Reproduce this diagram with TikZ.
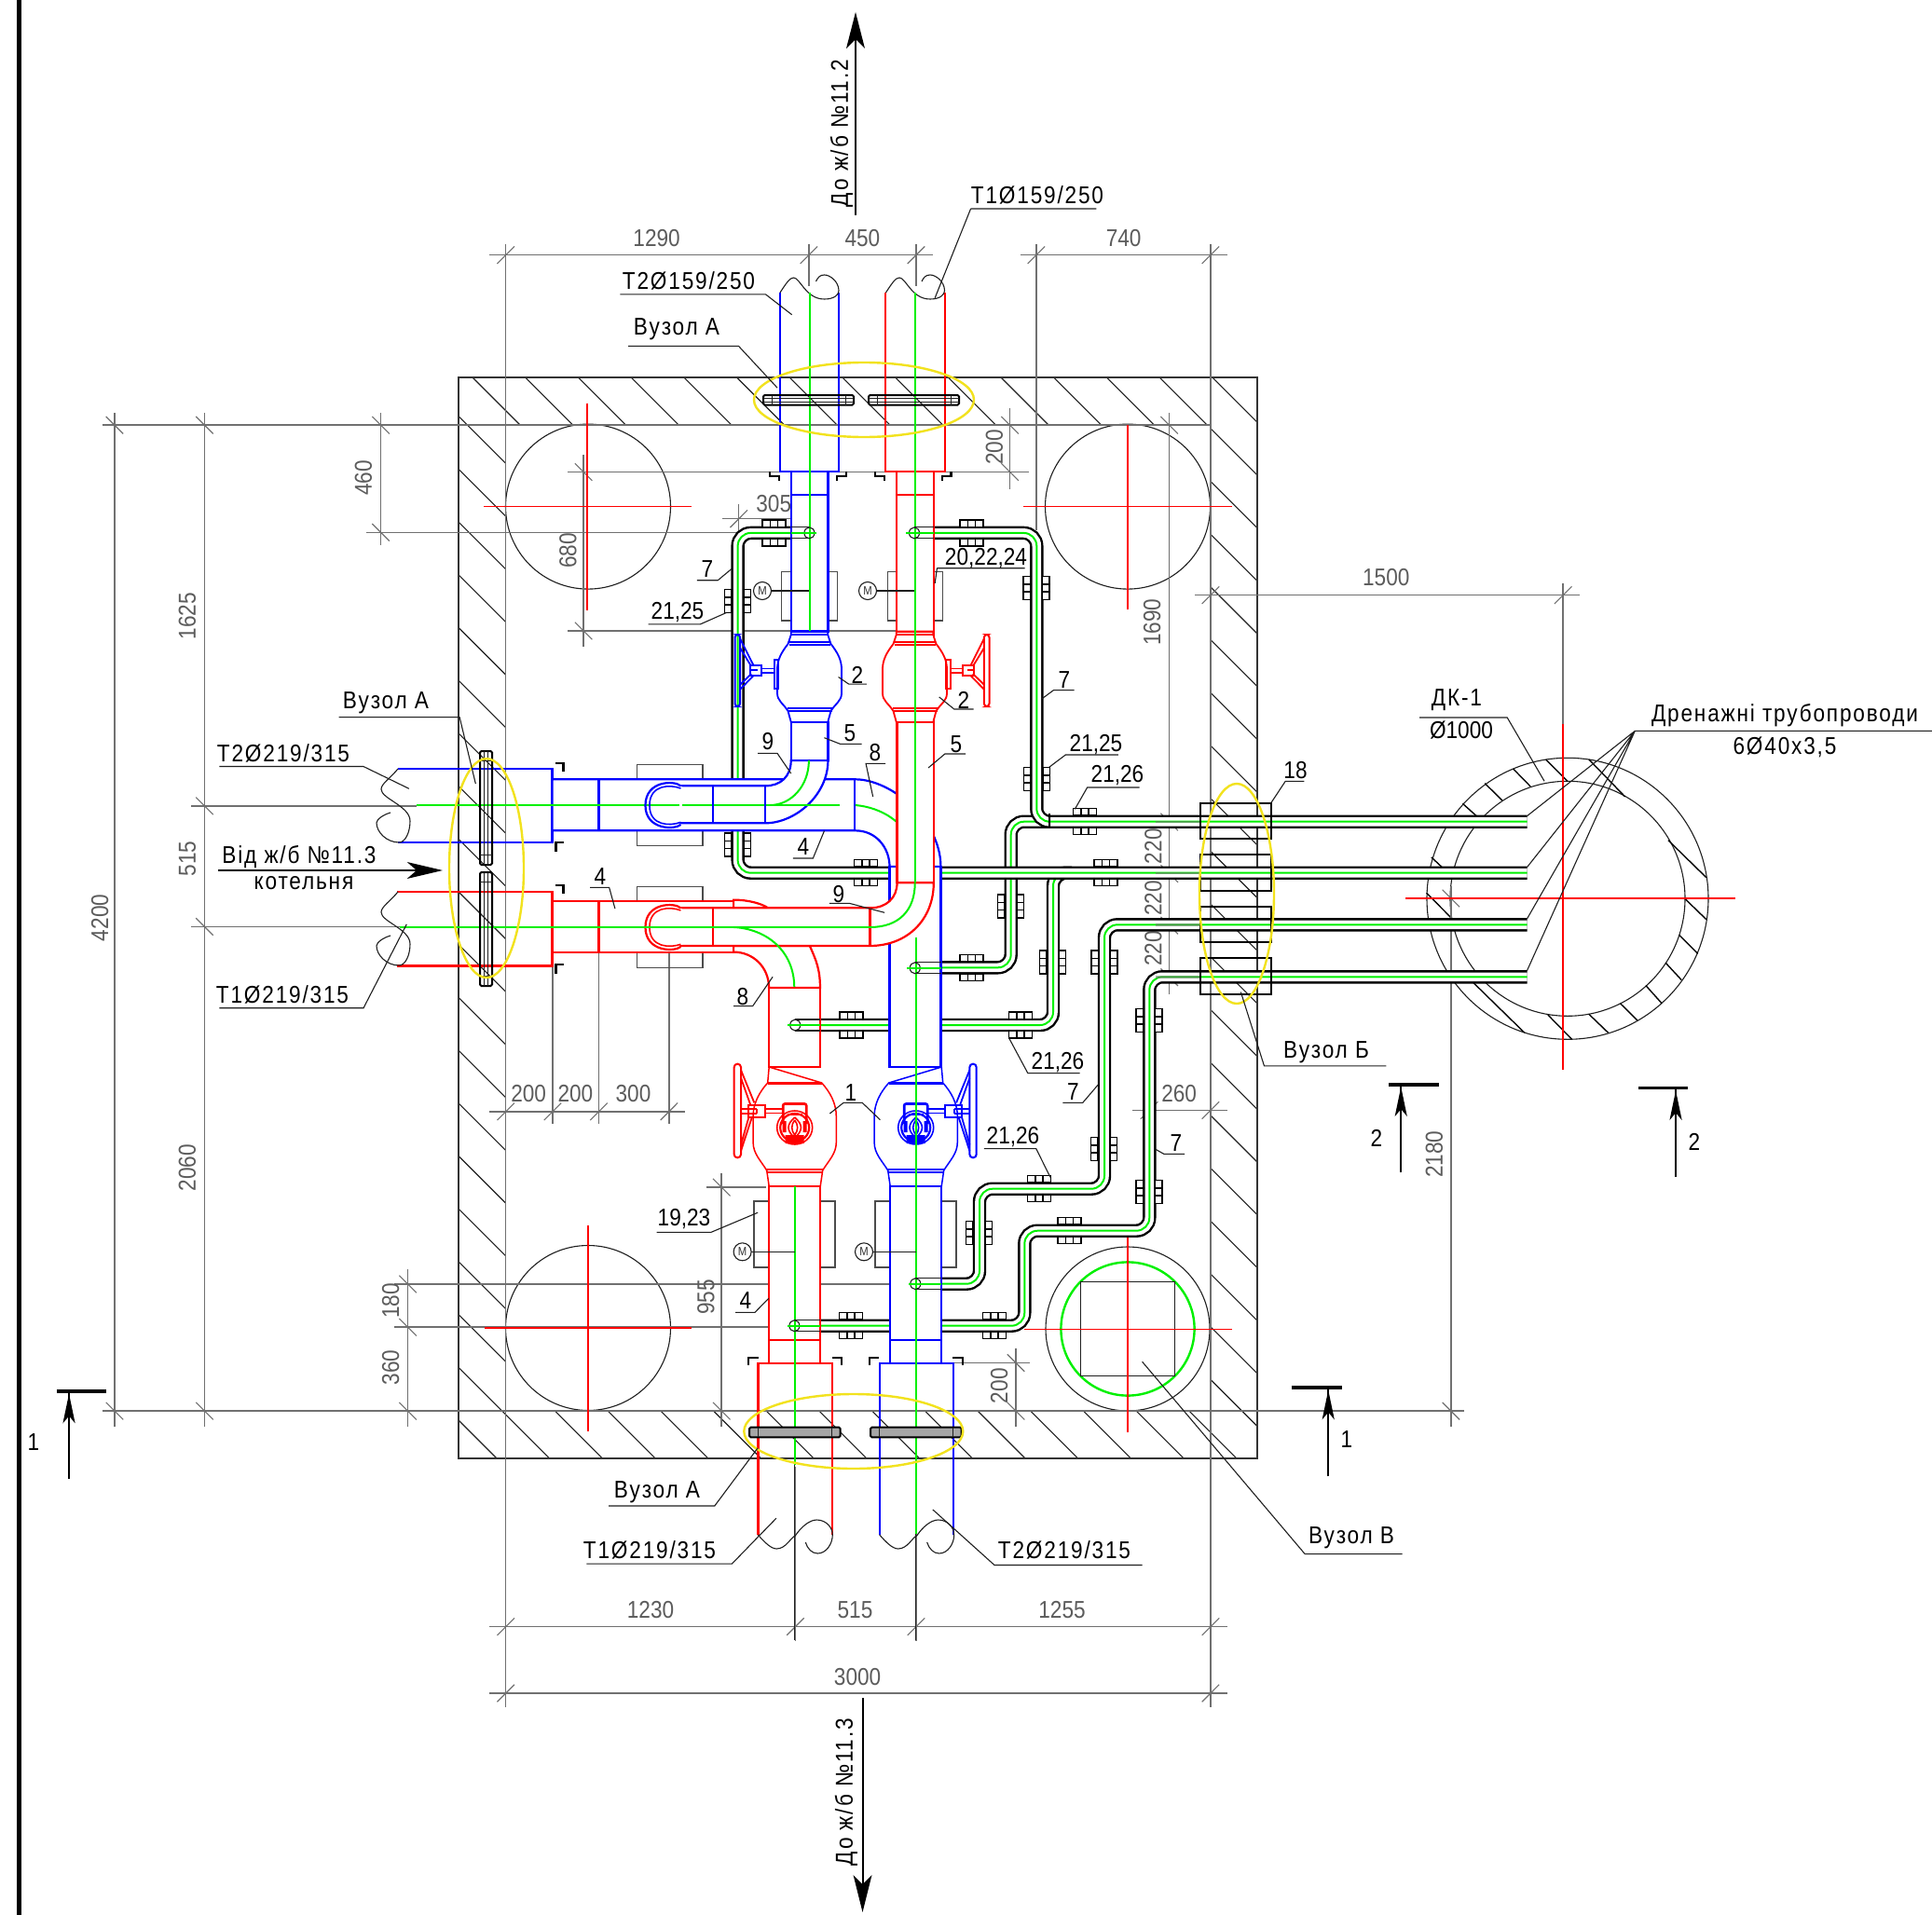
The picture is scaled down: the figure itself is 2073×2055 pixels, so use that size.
\documentclass[tikz,border=0pt]{standalone}
\usepackage{fontspec}
\newfontfamily\cad[FakeStretch=0.87]{Liberation Sans}
\newfontfamily\cadw[FakeStretch=0.87,LetterSpace=7]{Liberation Sans}
\definecolor{gr}{HTML}{00F000}
\definecolor{yl}{HTML}{F2E21E}
\definecolor{dimc}{HTML}{707070}
\definecolor{txtd}{HTML}{5C5C5C}
\tikzset{
 z1/.style={shift={(480,180)},x=0.4464pt,y=-0.3827pt},
 z2/.style={shift={(380,720)},x=0.4464pt,y=-0.3333pt},
 z3/.style={shift={(760,1100)},x=0.4464pt,y=-0.3333pt},
 z4/.style={shift={(1240,760)},x=0.5313pt,y=-0.3333pt},
 z5/.style={shift={(760,1420)},x=0.3333pt,y=-0.3333pt},
 z6/.style={shift={(980,780)},x=0.3333pt,y=-0.3333pt},
 sh/.style={x=1.3221pt,y=-1.3224pt},
 thinl/.style={draw=black!88,line width=1.1pt},
 dimm/.style={draw=dimc,line width=1.5pt},
 dimtk/.style={draw=dimc,line width=1.1pt},
 rp/.style={draw=red,line width=2.2pt,fill=white},
 rl/.style={draw=red,line width=2.2pt},
 bp/.style={draw=blue,line width=2.2pt,fill=white},
 bl/.style={draw=blue,line width=2.2pt},
 gl/.style={draw=gr,line width=2pt},
 tubeo/.style={draw=black,line width=2.4pt,double=white,double distance=9.6pt,rounded corners=14pt},
 tubeg/.style={draw=gr,line width=2pt,rounded corners=14pt},
 clampb/.style={draw=black,line width=1.5pt},
 lbl/.style={font=\cad\fontsize{26}{26}\selectfont,text=black,inner sep=0pt},
 wlbl/.style={font=\cadw\fontsize{26}{26}\selectfont,text=black,inner sep=0pt},
 dtx/.style={font=\cad\fontsize{26}{26}\selectfont,text=txtd,inner sep=0pt},
 secbar/.style={draw=black,line width=3.6pt},
 secln/.style={draw=black,line width=1.6pt},
 plate/.style={draw=black,line width=2pt,rounded corners=1.5pt},
 ell/.style={draw=yl,line width=2.4pt},
}
\newcommand\tubeline[1]{\draw[tubeo] #1; \draw[tubeg] #1;}
\newcommand\clh[2]{\begin{scope}[shift={(#1,#2)}]
 \draw[clampb,fill=white] (-12.5,-14) rectangle (12.5,-6.5) (-12.5,6.5) rectangle (12.5,14);
 \draw[clampb] (-4,-14)--(-4,-6.5) (4,-14)--(4,-6.5) (-4,6.5)--(-4,14) (4,6.5)--(4,14);
 \end{scope}}
\newcommand\clv[2]{\begin{scope}[shift={(#1,#2)},rotate=90]
 \draw[clampb,fill=white] (-12.5,-14) rectangle (12.5,-6.5) (-12.5,6.5) rectangle (12.5,14);
 \draw[clampb] (-4,-14)--(-4,-6.5) (4,-14)--(4,-6.5) (-4,6.5)--(-4,14) (4,6.5)--(4,14);
 \end{scope}}
\newcommand\stub[4]{% centre x, pipe edge x, y, green far end
 \draw[thinl] (#1,#3-6)--(#2,#3-6) (#1,#3+6)--(#2,#3+6);
 \draw[thinl] (#1,#3) ellipse (5.5 and 6);
 \draw[gl] (#4,#3)--(#2,#3);}
\newcommand\wavetop[1]{\draw[thinl,shift={(#1,314)}] (-31.5,0) .. controls (-25,-10) and (-21,-16) .. (-17,-16) .. controls (-10,-16) and (-4,7) .. (16,7) .. controls (27,7) and (31.5,2) .. (31.5,-2) .. controls (31.5,-12) and (22,-19) .. (16,-19) .. controls (11,-19) and (9,-16) .. (7,-12);}
\newcommand\wavebot[1]{\draw[thinl,shift={(#1,1647)}] (-40,0) .. controls (-33,8) and (-26,15) .. (-20,15) .. controls (-10,15) and (-5,3) .. (0,1) .. controls (6,-8) and (15,-16) .. (23,-16) .. controls (33,-16) and (40,-8) .. (40,0) .. controls (40,10) and (33,20) .. (24,20) .. controls (18,20) and (13,15) .. (11,8);}
\newcommand\waveleft[1]{\draw[thinl,shift={(427,#1)}] (0,-40) .. controls (-8,-30) and (-18,-24) .. (-18,-18) .. controls (-18,-8) and (13,0) .. (13,16) .. controls (13,28) and (8,39) .. (1,39) .. controls (-12,39) and (-23,28) .. (-23,18) .. controls (-23,14) and (-15,9) .. (-8,7);}
% top valve: #1 centre, #2 colour, #3 side (1: wheel at left, -1: wheel at right)
\newcommand\topvalve[3]{\begin{scope}[shift={(#1,0)},xscale=#3,draw=#2]
 \draw[line width=1.8pt,fill=white] (-19.7,677.5)--(-19.7,681)--(-23,691) .. controls (-30,700) and (-34.5,708) .. (-34.5,718)--(-34.5,744) .. controls (-34.5,752) and (-28,755) .. (-23,763)--(-19.7,775)--(19.7,775)--(23,763) .. controls (28,755) and (34.5,752) .. (34.5,744)--(34.5,718) .. controls (34.5,708) and (30,700) .. (23,691)--(19.7,681)--(19.7,677.5)--cycle;
 \draw[line width=2pt] (-19.7,677.5)--(19.7,677.5) (-19.7,681)--(19.7,681) (-22,689)--(22,689) (-22,692)--(22,692) (-24,759.5)--(24,759.5) (-24,762.5)--(24,762.5) (-19.7,775)--(19.7,775);
 \draw[line width=2pt] (-38,708) rectangle (-33.4,739);
 \draw[line width=1.6pt] (-51.4,717.6)--(-38,717.6) (-51.4,722)--(-38,722);
 \draw[line width=2pt] (-63.4,714) rectangle (-51.4,725) (-63,719)--(-56,719);
 \draw[line width=1.8pt] (-74.6,685)--(-60,714) (-74.6,695)--(-63,714) (-74.6,735)--(-62.4,723) (-74.6,740)--(-60,725);
 \draw[line width=2pt,rounded corners=3pt] (-80,681) rectangle (-74.4,758);
 \end{scope}}
% lower valve
\newcommand\ballvalve[3]{\begin{scope}[shift={(#1,0)},xscale=#3,draw=#2]
 \draw[line width=1.5pt,fill=white] (-27.5,1145)--(-29,1162) .. controls (-38,1172) and (-44.6,1184) .. (-44.6,1198)--(-44.6,1226) .. controls (-44.6,1238) and (-36,1246) .. (-30,1256)--(-27.5,1273)--(27.5,1273)--(30,1256) .. controls (36,1246) and (44.6,1238) .. (44.6,1226)--(44.6,1198) .. controls (44.6,1184) and (38,1172) .. (29,1162)--cycle;
 \draw[line width=2.4pt] (-27.5,1145)--(27.5,1145);
 \draw[line width=3pt] (-29,1162)--(29,1162);
 \draw[line width=1.6pt] (-31,1255)--(31,1255) (-30,1258)--(30,1258);
 \draw[line width=2.4pt] (-27.5,1273)--(27.5,1273);
 \draw[line width=1.5pt] (-31.7,1190)--(-12.5,1190) (-31.7,1194.5)--(-12.5,1194.5);
 \draw[line width=2pt] (-49.4,1186) rectangle (-31.7,1199.3);
 \draw[line width=1.6pt] (-57.7,1190)--(-41,1190) (-57.7,1195)--(-41,1195) (-41,1190)--(-41,1195);
 \draw[line width=1.8pt] (-57.7,1148.3)--(-43.4,1183.3) (-57.7,1156.7)--(-47.7,1185) (-57.7,1235)--(-46,1199.3) (-57.7,1228.3)--(-49.4,1199.3);
 \draw[line width=2pt,rounded corners=3.5pt] (-65,1141.7) rectangle (-57.7,1242.3);
 \draw[line width=2.6pt,rounded corners=2pt] (-12.5,1206) -- (-12.5,1184.5) -- (12.5,1184.5) -- (12.5,1206);
 \draw[line width=1.6pt] (0,1210) ellipse (19 and 18);
 \draw[line width=2.2pt] (0,1210) ellipse (15.5 and 15);
 \draw[line width=1.6pt] (-8,1196)--(8,1196);
 \draw[line width=1.6pt] (0,1199) .. controls (-9,1207) and (-9,1213) .. (0,1221) .. controls (9,1213) and (9,1207) .. (0,1199) (0,1202) .. controls (-4,1207) and (-4,1213) .. (0,1218) .. controls (4,1213) and (4,1207) .. (0,1202);
 \fill[#2] (-10,1218) rectangle (10,1227) (-13,1203) rectangle (-9,1215) (9,1203) rectangle (13,1215);
 \end{scope}}
\newcommand\lbl[3]{\node[lbl] at (#1,#2) {#3};}
\newcommand\wlab[3]{\node[wlbl] at (#1,#2) {#3};}
\newcommand\dtext[3]{\node[dtx] at (#1*1.322,#2*1.322) {#3};}
\newcommand\dtextr[3]{\node[dtx,rotate=90] at (#1*1.322,#2*1.322) {#3};}
\newcommand\tickh[2]{\draw[dimtk] (#1-7,#2+7)--(#1+7,#2-7);}
\newcommand\tickv[2]{\draw[dimtk] (#1-7,#2-7)--(#1+7,#2+7);}
\begin{document}
\begin{tikzpicture}[x=1pt,y=-1pt]
\useasboundingbox (0,0) rectangle (2073,2055);
\fill[white] (0,0) rectangle (2073,2055);
\draw[black,line width=5pt] (20,0)--(20,2055);
% walls
\begin{scope}
 \clip (492,405) rectangle (1349,1565);
 \foreach \k in {-16,...,21}{
  \pgfmathsetmacro\cc{-102+56.7*\k}
  \draw[thinl] (492,492+\cc)--(1349,1349+\cc);
 }
\end{scope}
\fill[white] (543,456) rectangle (1299,1514);
\draw[draw=black!80,line width=1.2pt] (492,405) rectangle (1349,1565);
% circles
\draw[thinl] (631,543.6) circle (88.5) (1210,543.6) circle (88.5) (631,1425) circle (88.5) (1210,1426) circle (88);
\draw[gr,line width=2.4pt] (1210,1426) circle (71.6);
\draw[thinl] (1159.5,1375.7) rectangle (1260.4,1476.7);
% manhole
\draw[thinl] (1682,964.3) circle (151) (1682,964.3) circle (126);
\begin{scope}[z4]
 \foreach \pa/\pb/\pc/\pd in {620/307/657/360,665/242/700/297,722/195/757/252,788/165/832/235,875/165/948/285,1035/425/1112/545,557/480/597/540,547/595/597/675,1068/612/1112/680,1057/730/1095/790,1030/820/1062/875,990/893/1022/950,938/950/973/1005,875/985/914/1045,792/987/840/1065,620/850/745/1045}{
  \draw[draw=black,line width=1.4pt] (\pa,\pb)--(\pc,\pd);}
\end{scope}
% dimensions
\begin{scope}[sh]
 \foreach \xa/\ya/\xb/\yb in {
  410.5/198/410.5/1385, 982.5/198/982.5/1385, 656.5/198/656.5/232, 743.5/198/743.5/232, 841/198/841/430,
  397/207/670/207, 645/207/757/207, 828/207/996/207,
  645.5/1190/645.5/1332, 743.5/1190/743.5/1332, 397/1320/996/1320, 397/1374/996/1374,
  93/335/93/1158, 166/335/166/1158, 83/345/982.5/345, 83/1145/1188/1145,
  155/654/338/654, 155/752/338/752, 309/335/309/442, 297/432/600/432,
  331/1030/331/1158, 320/1042/742/1042, 320/1077/645/1077,
  585.6/952/585.6/1158, 573/963.5/622/963.5,
  473.6/369/473.6/525, 461/383/835/383, 461/512/727/512, 819.6/331/819.6/397,
  586/421/670/421, 599.6/409/599.6/432, 656.7/409/656.7/432,
  949/335/949/807, 970/483/1282/483, 1268.6/473/1268.6/588,
  1177.6/719/1177.6/1158, 919/901/996/901,
  397/902/556/902, 448.5/783/448.5/912, 486/745/486/912, 543/751/543/912,
  824.5/1094/824.5/1158, 774/1106/836/1106}{
  \draw[dimm] (\xa,\ya)--(\xb,\yb);}
 \foreach \x/\y in {410.5/207,656.5/207,743.5/207,841/207,982.5/207,410.5/1320,645.5/1320,743.5/1320,982.5/1320,410.5/1374,982.5/1374,599.6/421,656.7/421,982.5/483,1268.6/483,410.5/902,448.5/902,486/902,543/902,932.7/901,982.5/901}{
  \tickh{\x}{\y}}
 \foreach \x/\y in {93/345,93/1145,166/345,166/654,166/752,166/1145,309/345,309/432,331/1042,331/1077,331/1145,585.6/963.5,585.6/1145,473.6/383,473.6/512,819.6/345,819.6/383,949/345,949/667,949/709,949/751,949/793,1177.6/729,1177.6/1145,824.5/1106,824.5/1145}{
  \tickv{\x}{\y}}
\end{scope}
% red centre crosses
\draw[draw=red,line width=1.6pt] (630,432.6)--(630,654.6) (519,543.6)--(742,543.6) (1210,456)--(1210,654) (1098,543.6)--(1322,543.6) (631,1315)--(631,1536) (520,1425)--(742,1425) (1210,1316)--(1210,1537) (1099,1426.5)--(1321.6,1426.5);
\draw[draw=red,line width=1.8pt] (1677,777)--(1677,1148) (1508,964.3)--(1861.7,964.3);
\dtext{533}{193}{1290}\dtext{700}{193}{450}\dtext{912}{193}{740}
\dtext{628}{409}{305}\dtext{1125}{469}{1500}\dtext{528}{1307}{1230}\dtext{694}{1307}{515}\dtext{862}{1307}{1255}\dtext{696}{1361}{3000}
\dtext{429}{888}{200}\dtext{467}{888}{200}\dtext{514}{888}{300}\dtext{957}{888}{260}
\dtextr{81}{745}{4200}\dtextr{152}{500}{1625}\dtextr{152}{697}{515}\dtextr{152}{948}{2060}\dtextr{295}{388}{460}\dtextr{461}{447}{680}\dtextr{807}{363}{200}\dtextr{935}{505}{1690}\dtextr{936}{687}{220}\dtextr{936}{729}{220}\dtextr{936}{770}{220}\dtextr{1164}{937}{2180}\dtextr{317}{1110}{360}\dtextr{317}{1056}{180}\dtextr{573}{1053}{955}\dtextr{811}{1125}{200}
% actuator frames behind the pipes
\draw[draw=black!70,line width=1.1pt] (838.5,613.6) rectangle (898.3,666) (952.5,613.6) rectangle (1011.5,666) (809,1289) rectangle (896,1360) (939,1289) rectangle (1026,1360) (683.6,820.3) rectangle (754,907.7) (683.6,951.3) rectangle (754,1038.3);
% tubes
\tubeline{(1010,1038.3)--(1084.7,1038.3)--(1084.7,881.7)--(1638.5,881.7)}
\tubeline{(1001.4,571.9)--(1112.3,571.9)--(1112.3,881.7)--(1127,881.7)}
\draw[black,line width=2pt] (1126,873)--(1126,888);
\tubeline{(880,1100)--(1130,1100)--(1130,936.7)--(1150,936.7)}
\tubeline{(849,571.9)--(791.6,571.9)--(791.6,936.7)--(1638.5,936.7)}
\tubeline{(1010,1377.7)--(1051,1377.7)--(1051,1275.7)--(1185,1275.7)--(1185,992.3)--(1638.5,992.3)}
\tubeline{(880,1422.7)--(1099.3,1422.7)--(1099.3,1320.7)--(1233.3,1320.7)--(1233.3,1048.3)--(1638.5,1048.3)}
\foreach \y in {881.7,936.7,992.3,1048.3}{\draw[draw=dimc,opacity=.55,line width=2.4pt] (1240,\y)--(1288,\y);}
\foreach \x/\y in {830.4/571.9,1042.5/571.9,1164/881.7,1186.7/936.7,1042.7/1038.3,1095/1100,913.5/1100,929/936.7,1115/1275.7,1147.5/1320.7,913/1422.7,1067/1422.7}{\clh{\x}{\y}}
\foreach \x/\y in {791.6/645,1112/630.8,1112.3/836,791.6/906.7,1084.3/972.3,1129.3/1032.7,1185/1032.7,1184.7/1233,1050.5/1323,1233/1095,1233/1279}{\clv{\x}{\y}}
% sleeves at the wall
\foreach \pa/\pb in {861.7/900,916.7/955.7,972.7/1011,1028/1066.7}{\draw[draw=black,line width=2pt] (1288,\pa) rectangle (1364,\pb);}
% casings
\draw[bl] (837,314)--(837,506)--(900,506)--(900,314);
\draw[rl] (950,314)--(950,506)--(1014,506)--(1014,314);
\draw[bl] (427,825)--(592.5,825)--(592.5,904)--(427,904);
\draw[rl] (426,957.3)--(592.5,957.3)--(592.5,1036.5)--(426,1036.5);
\draw[rl] (813.4,1647)--(813.4,1463)--(893.3,1463)--(893.3,1647);
\draw[bl] (943.7,1647)--(943.7,1463)--(1023,1463)--(1023,1647);
\wavetop{868.5}\wavetop{982}\wavebot{853.3}\wavebot{983.7}\waveleft{865}\waveleft{997}
% top pipes
\draw[bp] (849,506) rectangle (888.5,677.5);
\draw[bl] (849,531)--(888.5,531);
\draw[rp] (962.3,506) rectangle (1001.7,775);
\draw[rl] (962.3,531)--(1001.7,531);
% blue main
\begin{scope}[z2]
 \draw[bp] (476,349)--(1205,349) .. controls (1290,349) and (1410,480) .. (1410,630)--(1287,630) .. controls (1287,570) and (1255,514) .. (1205,514)--(476,514)--cycle;
 \draw[bl] (588,349)--(588,514) (1203,349)--(1203,514);
 \draw[gl] (1205,432) .. controls (1270,440) and (1325,490) .. (1340,560);
 \draw[bp] (1287,630) rectangle (1410,1275);
 \draw[bp] (988,490) .. controls (1060,490) and (1139,400) .. (1139,288)--(1050,288) .. controls (1050,340) and (1025,370) .. (988,370)--(785,370)--(785,490)--cycle;
 \draw[gl] (150,433)--(1168,433);
 \draw[bl] (862,370)--(862,490) (988,370)--(988,490) ;
 \draw[draw=white,line width=3pt] (785,373)--(785,487);
 \draw[bl] (785,370) .. controls (770,352) and (700,352) .. (700,433) .. controls (700,512) and (770,512) .. (785,495);
 \draw[bl,line width=1.6pt] (785,378) .. controls (760,365) and (710,365) .. (710,433) .. controls (710,500) and (760,500) .. (785,487);
 \draw[bp] (1050,165) rectangle (1139,288);
 \draw[gl] (1093,288) .. controls (1093,370) and (1050,432) .. (1000,432);
\end{scope}
% blue lower
\draw[bp] (955,1273) rectangle (1010,1463);
\draw[bl] (955,1438.3)--(1010,1438.3);
% red main
\begin{scope}[z2]
 \draw[rp] (1305,165) rectangle (1393,682);
 \draw[rp] (476,742)--(912,742)--(912,907)--(476,907)--cycle;
 \draw[rl] (588,742)--(588,907);
 \draw[rp] (912,905) .. controls (960,905) and (997,955) .. (997,1020)--(1120,1020) .. controls (1120,960) and (1110,930) .. (1095,885)--(912,885)--cycle;
 \draw[rl,fill=white] (912,737) .. controls (950,737) and (980,750) .. (995,763)--(912,763)--cycle;
 \draw[rp] (1393,682) .. controls (1393,800) and (1330,885) .. (1240,885)--(785,885)--(785,763)--(1240,763) .. controls (1280,763) and (1305,730) .. (1305,682)--cycle;
 \draw[draw=white,line width=3pt] (785,766)--(785,882);
 \draw[rl] (862,763)--(862,885) (1240,763)--(1240,885);
 \draw[rl] (785,763) .. controls (770,745) and (700,745) .. (700,825) .. controls (700,905) and (770,905) .. (785,888);
 \draw[rl,line width=1.6pt] (785,771) .. controls (760,758) and (710,758) .. (710,825) .. controls (710,892) and (760,892) .. (785,880);
 \draw[gl] (110,825)--(1240,825);
 \draw[gl] (912,825) .. controls (990,830) and (1058,900) .. (1058,1020);
 \draw[gl] (1348,682) .. controls (1348,770) and (1310,825) .. (1240,825);
\end{scope}
\draw[rp] (825,1060) rectangle (880,1145);
\draw[rp] (825,1273) rectangle (880,1463);
\draw[rl] (825,1438.3)--(880,1438.3);
\draw[rl,line width=2.8pt] (825,1060)--(880,1060);
% valves
\topvalve{868.5}{blue}{1}
\topvalve{981.5}{red}{-1}
\ballvalve{852.7}{red}{1}
\ballvalve{982.7}{blue}{-1}
% green centre lines
\draw[gl] (868.5,314)--(868.5,677);
\draw[gl] (981.5,314)--(981.5,947);
\draw[gl] (852.7,1273)--(852.7,1572);
\draw[gl] (982.7,1006)--(982.7,1646);
\draw[thinl] (852.7,1572)--(852.7,1760);
\draw[thinl] (982.7,1646)--(982.7,1760);
% tube ends inside pipes
\stub{868.4}{849}{571.9}{876.4}
\stub{981}{1001.7}{571.9}{972}
\stub{853.2}{880}{1100}{845}
\stub{981.8}{1010}{1038.8}{973}
\stub{982.3}{1010}{1377.7}{975}
\stub{852.4}{880}{1422.7}{845}
% glands
\begin{scope}[z2]
 \foreach \dd in {0,393}{
  \draw[draw=black,line width=2.2pt] (483,297+\dd)--(503,297+\dd)--(503,325+\dd) (505,553+\dd)--(485,553+\dd)--(485,583+\dd);}
\end{scope}
\begin{scope}[z1]
 \foreach \dd in {0,253}{
  \draw[draw=black,line width=2.2pt] (775+\dd,852)--(775+\dd,865)--(798+\dd,865)--(798+\dd,878) (958+\dd,852)--(958+\dd,865)--(936+\dd,865)--(936+\dd,878);}
\end{scope}
\begin{scope}[z3]
 \foreach \dd in {0,291}{
  \draw[draw=black,line width=2.2pt] (97+\dd,1095)--(97+\dd,1072)--(120+\dd,1072) (320+\dd,1095)--(320+\dd,1072)--(297+\dd,1072);}
\end{scope}
% motors
\foreach \x/\y/\e in {818/634/868.4,931/634/981,796.6/1343.3/852.7,927/1343.3/982.7}{
 \draw[thinl,fill=white] (\x,\y) circle (9.5);
 \node[font=\cad\fontsize{13}{13}\selectfont,inner sep=0pt,text=black!80] at (\x,\y) {М};
 \draw[thinl] (\x+9.5,\y)--(\e,\y);
}
% plates
\foreach \x in {819,932}{
 \draw[plate] (\x,424) rectangle (\x+97,434.5);
 \draw[thinl,line width=.8pt] (\x,427.5)--(\x+97,427.5) (\x,431)--(\x+97,431) (\x+9,424)--(\x+9,434.5) (\x+88,424)--(\x+88,434.5);
}
\foreach \x in {804,934}{
 \draw[plate,fill=black!35] (\x,1531.7) rectangle (\x+97.7,1542.3);
 \draw[thinl,line width=.8pt] (\x+9,1531.7)--(\x+9,1542.3) (\x+88,1531.7)--(\x+88,1542.3);
}
\foreach \y in {806,936}{
 \draw[plate] (515,\y) rectangle (528,\y+122);
 \draw[thinl,line width=.8pt] (519.5,\y)--(519.5,\y+122) (523.5,\y)--(523.5,\y+122) (515,\y+10)--(528,\y+10) (515,\y+111)--(528,\y+111);
}
% yellow ellipses
\draw[ell] (927,429) ellipse (118 and 40);
\draw[ell] (915.8,1536) ellipse (117.5 and 40);
\draw[ell] (522,931.6) ellipse (40 and 117.5);
\draw[ell] (1327,959) ellipse (40 and 118);
% leaders
\begin{scope}[z1]
 \draw[thinl] (415,355)--(765,355)--(828,412);
 \draw[thinl] (435,500)--(700,500)--(793,617);
 \draw[thinl] (1258,115)--(1560,115) (1258,115)--(1172,365);
 \draw[thinl] (600,1157)--(650,1157)--(683,1125);
 \draw[thinl] (483,1280)--(608,1280)--(670,1248);
 \draw[thinl] (1177,1123)--(1388,1123) (1177,1123)--(1172,1165);
 \draw[thinl] (1008,1448)--(965,1448)--(940,1428);
 \draw[thinl] (1265,1518)--(1218,1518)--(1182,1484);
 \draw[thinl] (1507,1465)--(1457,1465)--(1428,1490);
\end{scope}
\begin{scope}[z2]
 \draw[thinl] (1220,235)--(1168,235)--(1130,215);
 \draw[thinl] (1470,267)--(1420,267)--(1380,312);
 \draw[thinl] (1277,298)--(1230,298)--(1247,405);
 \draw[thinl] (970,265)--(1017,265)--(1050,330);
 \draw[thinl] (1055,603)--(1103,603)--(1130,515);
 \draw[thinl] (567,697)--(613,697)--(627,765);
 \draw[thinl] (1142,748)--(1190,748)--(1275,778);
 \draw[thinl] (912,1079)--(958,1079)--(1006,985);
\end{scope}
\begin{scope}[sh]
 \draw[thinl] (275,582)--(373,582)--(386,636);
 \draw[thinl] (178,622)--(295,622)--(332,640);
 \draw[thinl] (178,818)--(295,818)--(330,750);
 \draw[thinl] (533,1000)--(577,1000)--(615,984);
 \draw[thinl] (494,1222)--(580,1222)--(615,1175);
 \draw[thinl] (476,1269)--(594,1269)--(630,1232);
 \draw[thinl] (927,1270)--(807,1270)--(757,1225);
 \draw[thinl] (1138,1261)--(1059,1261)--(927,1105);
 \draw[thinl] (1125,865)--(1026,865)--(1007,805);
\end{scope}
\begin{scope}[z3]
 \draw[thinl] (292,285)--(325,250)--(370,250)--(413,305);
 \draw[thinl] (893,155)--(768,155)--(722,40);
 \draw[thinl] (663,398)--(788,398)--(822,490);
 \draw[thinl] (852,250)--(900,250)--(937,192);
 \draw[thinl] (1145,415)--(1095,415)--(1075,400);
 \draw[thinl] (65,925)--(112,925)--(145,880);
\end{scope}
\begin{scope}[z6]
 \draw[thinl] (660,90)--(490,90)--(437,130);
 \draw[thinl] (728,195)--(560,195)--(520,265);
\end{scope}
\begin{scope}[z4]
 \draw[thinl] (300,235)--(262,235)--(233,305);
 \draw[thinl] (533,30)--(710,30)--(785,235);
 \draw[thinl] (1568,73)--(968,73)--(750,347) (968,73)--(750,512) (968,73)--(750,678) (968,73)--(750,845);
\end{scope}
% section marks
\begin{scope}[sh]
 \draw[secbar] (46,1129)--(86,1129); \draw[secln] (56,1200)--(56,1129);
 \draw[secbar] (1048,1126)--(1089,1126); \draw[secln] (1078,1198)--(1078,1127);
 \draw[secbar] (1127,880)--(1168,880); \draw[secln] (1137,951)--(1137,881);
 \draw[secbar] (1330,883)--(1370,883); \draw[secln] (1360,955)--(1360,884);
 \foreach \x/\y in {56/1131,1078/1128,1137/882,1360/885}{
  \fill[black] (\x,\y)--(\x-5,\y+24)--(\x,\y+18)--(\x+5,\y+24)--cycle;}
\end{scope}
% flow arrows
\draw[black,line width=2pt] (918,231)--(918,30);
\fill[black] (918,13)--(908,52)--(918,42)--(928,52)--cycle;
\draw[black,line width=2pt] (925.5,1822)--(925.5,2030);
\fill[black] (925.5,2052)--(915.5,2012)--(925.5,2022)--(935.5,2012)--cycle;
\draw[black,line width=2pt] (234,934)--(455,934);
\fill[black] (475,934)--(436.7,925)--(447,934)--(436.7,943)--cycle;
% labels
\wlab{1113}{209}{Т1Ø159/250}\wlab{739}{301.5}{Т2Ø159/250}\wlab{726}{353}{Вузол А}
\lbl{759}{611}{7}\lbl{727}{657}{21,25}\lbl{1058}{599}{20,22,24}
\lbl{920}{724.5}{2}\lbl{1034}{751}{2}\lbl{1142}{730}{7}
\lbl{912}{787}{5}\lbl{1026}{799}{5}\lbl{939}{808}{8}\lbl{824}{796}{9}\lbl{862}{909}{4}
\lbl{644}{941}{4}\lbl{900}{960}{9}\lbl{797}{1070}{8}
\wlab{414}{754}{Вузол А}\wlab{304}{808}{Т2Ø219/315}\wlab{321}{920}{Від ж/б №11.3}\wlab{326}{948}{котельня}\wlab{303}{1067}{Т1Ø219/315}
\lbl{913}{1172.7}{1}\lbl{1176}{799}{21,25}\lbl{1199}{832.3}{21,26}\lbl{1135}{1140}{21,26}\lbl{1151.5}{1172}{7}\lbl{1087}{1220}{21,26}\lbl{1262}{1226.7}{7}
\lbl{734}{1308}{19,23}\lbl{800}{1396}{4}\wlab{1423}{1129}{Вузол Б}\lbl{1390}{826.7}{18}
\wlab{1563}{751}{ДК-1}\lbl{1568}{784}{Ø1000}\wlab{1915}{768}{Дренажні трубопроводи}\wlab{1915}{802}{6Ø40х3,5}
\wlab{705}{1601}{Вузол А}\wlab{697}{1663}{Т1Ø219/315}\wlab{1142}{1663}{Т2Ø219/315}\wlab{1450}{1650}{Вузол В}
\lbl{36}{1548}{1}\lbl{1445}{1545}{1}\lbl{1477}{1221}{2}\lbl{1818}{1225}{2}
\node[wlbl,rotate=90] at (903,143) {До ж/б №11.2};
\node[wlbl,rotate=90] at (908,1923) {До ж/б №11.3};
\end{tikzpicture}
\end{document}
